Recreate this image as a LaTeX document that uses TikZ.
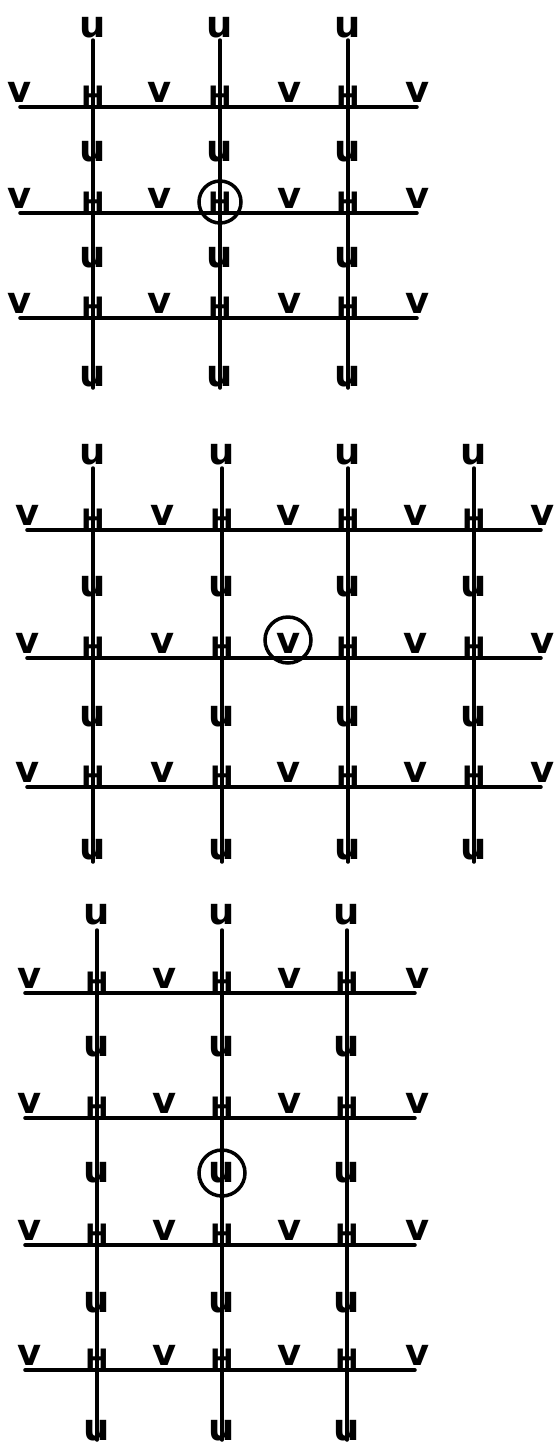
\documentclass[tikz,border=0pt]{standalone}
\usepackage{fontspec}
\setmainfont{DejaVu Sans}
\usetikzlibrary{positioning}
\tikzset{
  gridline/.style={line width=2pt, line cap=round},
  ulabel/.style={font=\fontsize{21}{21}\selectfont\bfseries, inner sep=0pt},
  vlabel/.style={font=\fontsize{21}{21}\selectfont\bfseries, inner sep=0pt, anchor=south},
  hlabel/.style={font=\fontsize{16}{16}\selectfont\bfseries, inner sep=0pt, anchor=south},
  ringed/.style={circle, draw, line width=2pt, inner sep=0pt, minimum size=0.88cm},
}

\begin{document}
\begin{tikzpicture}[x=0.02cm, y=-0.02cm]
  \useasboundingbox (0,0) rectangle (556,1448);

  % Panel A: 3 x 3 grid, H point ringed
  \foreach \y [count=\j] in {107,213,318} {
    \coordinate (A-w\j) at (20,\y);
    \coordinate (A-e\j) at (417,\y);
    \draw[gridline] (A-w\j) -- (A-e\j);
    \foreach \x [count=\i] in {20,160,290,418}
      \node[vlabel] (A-v-\i-\j) at (\x,\y-4) {v};
  }
  \foreach \x [count=\i] in {93,220,348} {
    \coordinate (A-n\i) at (\x,40);
    \coordinate (A-s\i) at (\x,388);
    \draw[gridline] (A-n\i) -- (A-s\i);
    \foreach \y [count=\j] in {107,213,318}
      \node[hlabel] (A-h-\i-\j) at (\x,\y) {H};
    \foreach \y [count=\j] in {28,152,258,377}
      \node[ulabel] (A-u-\i-\j) at (\x,\y) {u};
  }
  \node[ringed, minimum size=0.84cm] (A-ring) at (220,202) {};

  % Panel B: 4 x 3 grid, v point ringed
  \foreach \y [count=\j] in {530,658,787} {
    \coordinate (B-w\j) at (27,\y);
    \coordinate (B-e\j) at (541,\y);
    \draw[gridline] (B-w\j) -- (B-e\j);
    \foreach \x [count=\i] in {28,163,289,416,543}
      \node[vlabel] (B-v-\i-\j) at (\x,\y-4) {v};
  }
  \foreach \x [count=\i] in {93,222,348,474} {
    \coordinate (B-n\i) at (\x,468);
    \coordinate (B-s\i) at (\x,862);
    \draw[gridline] (B-n\i) -- (B-s\i);
    \foreach \y [count=\j] in {530,658,787}
      \node[hlabel] (B-h-\i-\j) at (\x,\y) {H};
    \foreach \y [count=\j] in {455,587,717,850}
      \node[ulabel] (B-u-\i-\j) at (\x,\y) {u};
  }
  \node[ringed, minimum size=0.92cm] (B-ring) at (288,640) {};

  % Panel C: 3 x 4 grid, u point ringed
  \foreach \y [count=\j] in {993,1118,1245,1370} {
    \coordinate (C-w\j) at (25,\y);
    \coordinate (C-e\j) at (415,\y);
    \draw[gridline] (C-w\j) -- (C-e\j);
    \foreach \x [count=\i] in {30,165,290,418}
      \node[vlabel] (C-v-\i-\j) at (\x,\y-4) {v};
  }
  \foreach \x [count=\i] in {97,222,347} {
    \coordinate (C-n\i) at (\x,930);
    \coordinate (C-s\i) at (\x,1440);
    \draw[gridline] (C-n\i) -- (C-s\i);
    \foreach \y [count=\j] in {993,1118,1245,1370}
      \node[hlabel] (C-h-\i-\j) at (\x,\y) {H};
    \foreach \y [count=\j] in {915,1047,1173,1303,1431}
      \node[ulabel] (C-u-\i-\j) at (\x,\y) {u};
  }
  \node[ringed, minimum size=0.92cm] (C-ring) at (C-u-2-3) {};

\end{tikzpicture}
\end{document}
